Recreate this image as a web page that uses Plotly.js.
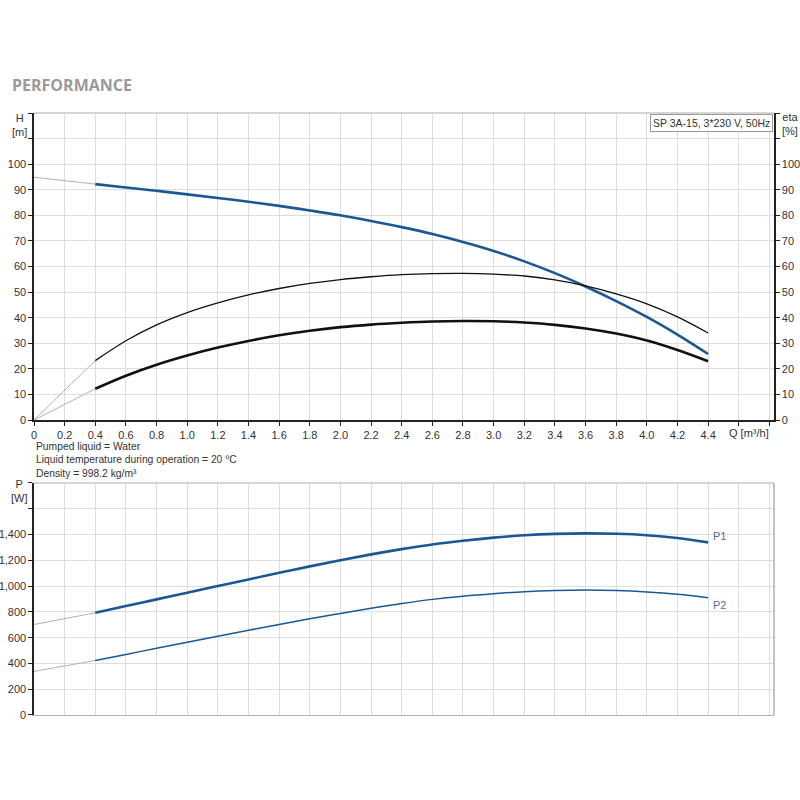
<!DOCTYPE html>
<html>
<head>
<meta charset="utf-8">
<script src="https://cdn.plot.ly/plotly-3.0.1.min.js"></script>
<style>
  html, body { margin: 0; padding: 0; background: #fff; }
  #chart { width: 800px; height: 800px; }
</style>
</head>
<body>
<div id="chart"></div>
<script>
// flow [m3/h]; the part below 0.4 is drawn thin (outside operating range)
const qLow = [0, 0.4];
const q = [0.4, 0.6, 0.8, 1.0, 1.2, 1.4, 1.6, 1.8, 2.0, 2.2, 2.4, 2.6, 2.8, 3.0, 3.2, 3.4, 3.6, 3.8, 4.0, 4.2, 4.4];

// head H [m]
const headLow = [94.9, 92.2];
const head = [92.2, 90.9, 89.6, 88.2, 86.8, 85.3, 83.7, 81.9, 80.0, 77.8, 75.4, 72.7, 69.6, 66.1, 62.0, 57.4, 52.2, 46.5, 40.3, 33.4, 25.8];

// efficiency eta [%], pump and total
const etaPumpLow = [0, 23.2];
const etaPump = [23.2, 31.0, 37.2, 42.0, 45.8, 48.9, 51.4, 53.4, 54.9, 56.0, 56.8, 57.2, 57.3, 57.0, 56.3, 54.8, 52.4, 49.3, 45.4, 40.3, 34.0];
const etaTotalLow = [0, 12.2];
const etaTotal = [12.2, 17.3, 21.6, 25.2, 28.3, 30.9, 33.1, 34.9, 36.3, 37.3, 38.0, 38.5, 38.7, 38.6, 38.1, 37.2, 35.8, 33.8, 31.1, 27.4, 23.0];

// power P [W]
const p1Low = [702, 793];
const p1 = [793, 845, 897, 949, 1001, 1052, 1103, 1153, 1201, 1246, 1287, 1323, 1352, 1376, 1394, 1405, 1409, 1406, 1395, 1373, 1339];
const p2Low = [338, 423];
const p2 = [423, 470, 517, 564, 611, 657, 702, 746, 788, 828, 865, 897, 922, 941, 956, 965, 969, 965, 954, 936, 910];

// axis ticks
const qTicks = [0, 0.2, 0.4, 0.6, 0.8, 1.0, 1.2, 1.4, 1.6, 1.8, 2.0, 2.2, 2.4, 2.6, 2.8, 3.0, 3.2, 3.4, 3.6, 3.8, 4.0, 4.2, 4.4, 4.6, 4.8];
const qTickText = ["0", "0.2", "0.4", "0.6", "0.8", "1.0", "1.2", "1.4", "1.6", "1.8", "2.0", "2.2", "2.4", "2.6", "2.8", "3.0", "3.2", "3.4", "3.6", "3.8", "4.0", "4.2", "4.4", "", ""];
const hTicks = [0, 10, 20, 30, 40, 50, 60, 70, 80, 90, 100, 110, 120];
const hTickText = ["0", "10", "20", "30", "40", "50", "60", "70", "80", "90", "100", "", ""];
const pTicks = [0, 200, 400, 600, 800, 1000, 1200, 1400, 1600, 1800];
const pTickText = ["0", "200", "400", "600", "800", "1,000", "1,200", "1,400", "", ""];

const blue = "#1b5793";
const paleBlue = "#9db3cc";
const pale = "#b0b0b0";
const gridColor = "#dedede";
const font = "Liberation Sans, Arial, sans-serif";

function line(x, y, color, width, xa, ya) {
  return {
    x: x, y: y, xaxis: xa, yaxis: ya,
    type: "scatter", mode: "lines",
    line: { color: color, width: width, shape: "spline", smoothing: 1 },
    hoverinfo: "skip"
  };
}

const data = [
  line(qLow, etaPumpLow, pale, 1, "x", "y2"),
  line(qLow, etaTotalLow, pale, 1, "x", "y2"),
  line(qLow, headLow, paleBlue, 1, "x", "y"),
  line(q, etaPump, "#111", 1.3, "x", "y2"),
  line(q, etaTotal, "#111", 2.6, "x", "y2"),
  line(q, head, blue, 2.6, "x", "y"),
  line(qLow, p1Low, paleBlue, 1, "x2", "y3"),
  line(qLow, p2Low, paleBlue, 1, "x2", "y3"),
  line(q, p1, blue, 2.6, "x2", "y3"),
  line(q, p2, blue, 1.5, "x2", "y3")
];

const tickFont = { family: font, size: 11, color: "#333" };
const xRange = [0, 4.83];

function xAxis(anchor, labels) {
  return {
    range: xRange, anchor: anchor,
    tickvals: qTicks, ticktext: labels ? qTickText : qTicks.map(() => ""),
    showgrid: true, gridcolor: gridColor, gridwidth: 1,
    zeroline: false, showline: true, linecolor: labels ? "#222" : "#b5b5b5", linewidth: labels ? 1.6 : 1.4,
    ticks: labels ? "outside" : "", ticklen: 4, tickcolor: "#222",
    tickfont: tickFont, fixedrange: true
  };
}

// subplot domains (paper fractions of the 602 px high plot area)
const topDomain = [0.49, 1];
const lowDomain = [0, 0.3854];

const layout = {
  width: 800, height: 800,
  margin: { l: 34, r: 26, t: 113, b: 85 },
  paper_bgcolor: "#fff", plot_bgcolor: "#fff",
  showlegend: false,
  font: { family: font, size: 11, color: "#333" },
  title: {
    text: "<b>PERFORMANCE</b>",
    font: { family: "Open Sans, sans-serif", size: 16, color: "#9a9a9a" },
    xref: "container", yref: "container",
    x: 12 / 800, xanchor: "left", y: 1 - 85 / 800, yanchor: "middle"
  },
  xaxis: xAxis("y", true),
  xaxis2: xAxis("y3", false),
  yaxis: {
    domain: topDomain, range: [0, 120], anchor: "x",
    tickvals: hTicks, ticktext: hTickText,
    showgrid: true, gridcolor: gridColor, zeroline: false,
    showline: true, linecolor: "#222", linewidth: 1.6,
    ticks: "outside", ticklen: 4, tickcolor: "#222",
    tickfont: tickFont, fixedrange: true
  },
  yaxis2: {
    overlaying: "y", side: "right", range: [0, 120], anchor: "x",
    tickvals: hTicks, ticktext: hTickText,
    showgrid: false, zeroline: false,
    showline: true, linecolor: "#222", linewidth: 1.6,
    ticks: "outside", ticklen: 4, tickcolor: "#222",
    tickfont: tickFont, fixedrange: true
  },
  yaxis3: {
    domain: lowDomain, range: [0, 1800], anchor: "x2",
    tickvals: pTicks, ticktext: pTickText,
    showgrid: true, gridcolor: gridColor, zeroline: false,
    showline: true, linecolor: "#222", linewidth: 1.6,
    ticks: "outside", ticklen: 4, tickcolor: "#222",
    tickfont: tickFont, fixedrange: true
  },
  shapes: [
    { type: "line", xref: "paper", yref: "paper", x0: 0, x1: 1, y0: 1, y1: 1, line: { color: "#c8c8c8", width: 1.5 } },
    { type: "line", xref: "paper", yref: "paper", x0: 0, x1: 1, y0: lowDomain[1], y1: lowDomain[1], line: { color: "#c8c8c8", width: 1.5 } },
    { type: "line", xref: "paper", yref: "paper", x0: 1, x1: 1, y0: 0, y1: lowDomain[1], line: { color: "#b0b0b0", width: 1.5 } }
  ],
  annotations: [
    { text: "SP 3A-15, 3*230 V, 50Hz", xref: "paper", yref: "paper", x: 0.998, y: 0.998, xanchor: "right", yanchor: "top",
      showarrow: false, bgcolor: "#fff", bordercolor: "#999", borderwidth: 1, borderpad: 2,
      font: { family: font, size: 10.5, color: "#333" } },
    { text: "H<br>[m]", xref: "paper", yref: "paper", x: -0.019, y: 0.98, xanchor: "center", yanchor: "middle", showarrow: false,
      font: { family: font, size: 11, color: "#333" } },
    { text: "eta<br>[%]", xref: "paper", yref: "paper", x: 1.021, y: 0.982, xanchor: "center", yanchor: "middle", showarrow: false,
      font: { family: font, size: 11, color: "#333" } },
    { text: "P<br>[W]", xref: "paper", yref: "paper", x: -0.019, y: 0.372, xanchor: "center", yanchor: "middle", showarrow: false,
      font: { family: font, size: 11, color: "#333" } },
    { text: "Q [m³/h]", xref: "x", yref: "paper", x: 4.67, y: topDomain[0] - 0.008, xanchor: "center", yanchor: "top", showarrow: false,
      font: { family: font, size: 11, color: "#333" } },
    { text: "Pumped liquid = Water<br>Liquid temperature during operation = 20 °C<br>Density = 998.2 kg/m³",
      xref: "paper", yref: "paper", x: 0.002, y: 0.456, xanchor: "left", yanchor: "top", align: "left", showarrow: false,
      borderpad: 0, font: { family: font, size: 10.3, color: "#333" } },
    { text: "P1", xref: "x2", yref: "y3", x: 4.42, y: 1385, xanchor: "left", yanchor: "middle", showarrow: false,
      font: { family: font, size: 11, color: "#5a6f86" } },
    { text: "P2", xref: "x2", yref: "y3", x: 4.42, y: 855, xanchor: "left", yanchor: "middle", showarrow: false,
      font: { family: font, size: 11, color: "#5a6f86" } }
  ]
};

Plotly.newPlot("chart", data, layout, { staticPlot: true, displayModeBar: false });
</script>
</body>
</html>
